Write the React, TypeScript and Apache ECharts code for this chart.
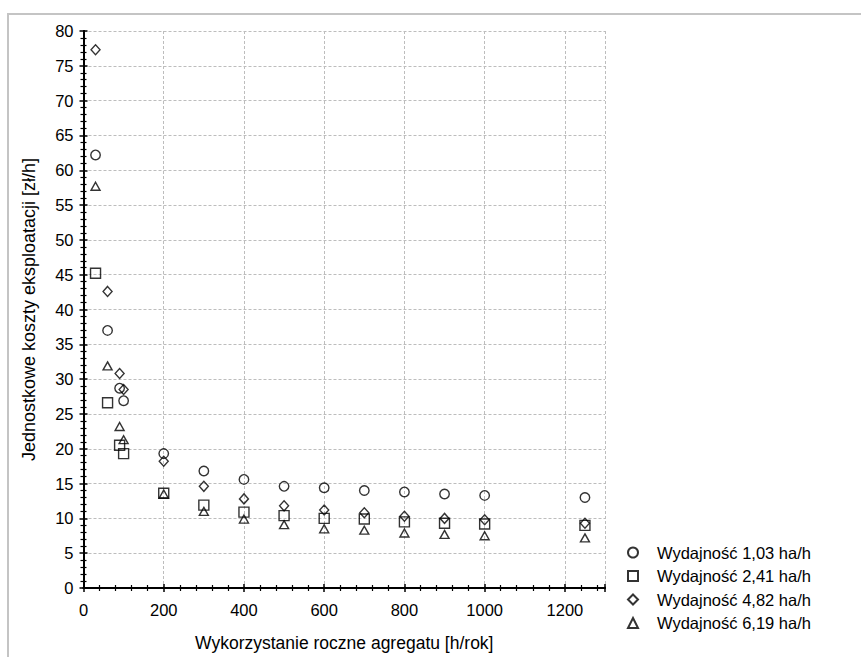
import React, { useEffect, useRef } from "react";
import * as echarts from "echarts";

const xValues = [30, 60, 90, 100, 200, 300, 400, 500, 600, 700, 800, 900, 1000, 1250];
const seriesNames = [
  "Wydajność 1,03 ha/h",
  "Wydajność 2,41 ha/h",
  "Wydajność 4,82 ha/h",
  "Wydajność 6,19 ha/h",
];
const circleValues = [62.2, 37.0, 28.7, 26.9, 19.3, 16.8, 15.6, 14.6, 14.4, 14.0, 13.8, 13.5, 13.3, 13.0];
const squareValues = [45.2, 26.6, 20.5, 19.3, 13.6, 11.9, 10.9, 10.4, 10.0, 9.9, 9.5, 9.3, 9.2, 9.0];
const diamondValues = [77.3, 42.6, 30.8, 28.5, 18.2, 14.6, 12.8, 11.8, 11.2, 10.8, 10.3, 10.0, 9.8, 9.3];
const triangleValues = [57.7, 31.9, 23.2, 21.3, 13.5, 11.0, 9.9, 9.1, 8.5, 8.3, 7.9, 7.7, 7.5, 7.2];
const symbols = ["circle", "rect", "diamond", "triangle"];
const symbolSizes: any[] = [[9.5, 9.5], [10, 10], [9, 10], [9, 8]];
const xTitle = "Wykorzystanie roczne agregatu [h/rok]";
const yTitle = "Jednostkowe koszty eksploatacji [zł/h]";

const FONT = "'Liberation Sans', Arial, sans-serif";

export default function App() {
  const ref = useRef<HTMLDivElement>(null);
  useEffect(() => {
    if (!ref.current) return;
    const chart = echarts.init(ref.current, undefined, { renderer: "svg" });
    const allValues = [circleValues, squareValues, diamondValues, triangleValues];
    const axisLine = { show: true, lineStyle: { color: "#000", width: 2 } };
    const axisTick = { show: true, inside: true, length: 4, lineStyle: { color: "#000", width: 1.5 } };
    const minorTick = { show: true, splitNumber: 5, length: 3, lineStyle: { color: "#000", width: 1.2 } };
    const splitLine = { show: true, lineStyle: { color: "#bdbdbd", width: 1, type: [3, 2] as any } };
    chart.setOption({
      animation: false,
      backgroundColor: "#fff",
      textStyle: { fontFamily: FONT },
      graphic: [
        {
          type: "rect",
          shape: { x: 8, y: 14, width: 900, height: 700 },
          style: { fill: "none", stroke: "#c4c4c4", lineWidth: 2 },
          silent: true,
        },
      ],
      grid: { left: 83.5, right: 256, top: 31, bottom: 67.5, containLabel: false },
      xAxis: [
        {
          type: "value",
          min: 0,
          max: 1300,
          interval: 200,
          position: "bottom",
          axisLine,
          axisTick,
          minorTick,
          splitLine,
          axisLabel: {
            color: "#000",
            fontSize: 16.5,
            fontFamily: FONT,
            margin: 13,
            formatter: (v: number) => (v > 1200 ? "" : String(v)),
          },
          name: xTitle,
          nameLocation: "middle",
          nameGap: 46,
          nameTextStyle: { color: "#000", fontSize: 17.5, fontFamily: FONT },
        },
        {
          type: "value",
          min: 0,
          max: 1300,
          interval: 200,
          position: "top",
          axisLine,
          axisTick,
          minorTick,
          splitLine: { show: false },
          axisLabel: { show: false },
        },
      ],
      yAxis: [
        {
          type: "value",
          min: 0,
          max: 80,
          interval: 5,
          position: "left",
          axisLine,
          axisTick,
          minorTick,
          splitLine,
          axisLabel: { color: "#000", fontSize: 16.5, fontFamily: FONT, margin: 10 },
          name: yTitle,
          nameLocation: "middle",
          nameGap: 46,
          nameTextStyle: { color: "#000", fontSize: 18, fontFamily: FONT, padding: [0, 0, 0, 0] },
        },
        {
          type: "value",
          min: 0,
          max: 80,
          interval: 5,
          position: "right",
          axisLine,
          axisTick,
          minorTick,
          splitLine: { show: false },
          axisLabel: { show: false },
        },
      ],
      legend: {
        orient: "vertical",
        left: 622,
        top: 539,
        itemWidth: 10,
        itemHeight: 10,
        itemGap: 6.5,
        selectedMode: false,
        textStyle: { color: "#000", fontSize: 16.5, fontFamily: FONT, padding: [0, 0, 0, 14] },
        data: seriesNames.map((n, i) => ({ name: n, icon: symbols[i] })),
      },
      series: seriesNames.map((name, i) => ({
        name,
        type: "scatter",
        xAxisIndex: 0,
        yAxisIndex: 0,
        symbol: symbols[i],
        symbolSize: symbolSizes[i],
        itemStyle: { color: "rgba(0,0,0,0)", borderColor: "#000", borderWidth: 1.4 },
        data: xValues.map((x, j) => [x, allValues[i][j]]),
        z: 3,
      })),
    });
    return () => chart.dispose();
  }, []);
  return (
    <div
      ref={ref}
      style={{ position: "fixed", left: 0, top: 0, width: 861, height: 657 }}
    />
  );
}
